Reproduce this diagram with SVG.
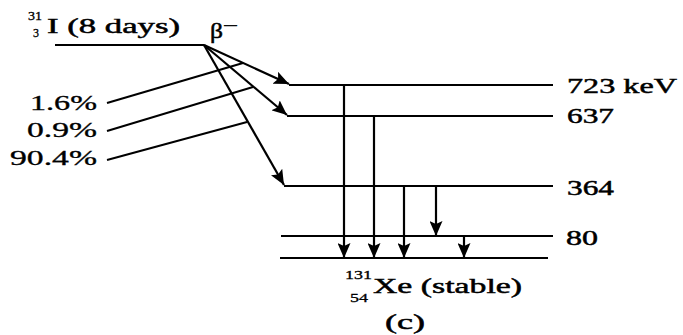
<svg xmlns="http://www.w3.org/2000/svg" width="683" height="335" viewBox="0 0 683 335">
<style>
text { font-family: "Liberation Serif", "Times New Roman", serif; fill: #000; stroke: #000; stroke-width: 0.5; font-weight: normal; }
.lbl { font-size: 22px; }
.pct { font-size: 20px; stroke-width: 0.3; }
.sm { font-size: 12px; stroke-width: 0.3; }
.lvl { stroke: #000; stroke-width: 2.2; fill: none; }
.arr { stroke: #000; stroke-width: 2.2; fill: none; marker-end: url(#ah); }
.lead { stroke: #000; stroke-width: 2; fill: none; }
</style>
<defs>
<marker id="ah" markerUnits="userSpaceOnUse" markerWidth="15" markerHeight="13" refX="15" refY="6.5" orient="auto">
<path d="M0,0 L15,6.5 L0,13 L3,6.5 z" fill="#000"/>
</marker>
</defs>
<rect width="683" height="335" fill="#fff"/>

<g id="parent">
<line class="lvl" x1="55" y1="45" x2="204" y2="45"/>
<text class="sm" x="28" y="20" textLength="14" lengthAdjust="spacingAndGlyphs">31</text>
<text class="sm" x="33" y="37">3</text>
<text class="lbl" x="47" y="33" textLength="133" lengthAdjust="spacingAndGlyphs">I (8 days)</text>
<text class="lbl" x="210" y="38" textLength="13" lengthAdjust="spacingAndGlyphs">β</text>
<text class="lbl" x="223" y="31" textLength="15" lengthAdjust="spacingAndGlyphs" style="font-size:16px">−</text>
</g>

<g id="level-723">
<line class="lvl" x1="289" y1="85" x2="553" y2="85"/>
<text class="lbl" x="567" y="93" textLength="110" lengthAdjust="spacingAndGlyphs">723 keV</text>
</g>
<g id="level-637">
<line class="lvl" x1="287" y1="116" x2="553" y2="116"/>
<text class="lbl" x="567" y="123" textLength="47" lengthAdjust="spacingAndGlyphs">637</text>
</g>
<g id="level-364">
<line class="lvl" x1="284" y1="186" x2="553" y2="186"/>
<text class="lbl" x="567" y="195" textLength="47" lengthAdjust="spacingAndGlyphs">364</text>
</g>
<g id="level-80">
<line class="lvl" x1="281" y1="236" x2="553" y2="236"/>
<text class="lbl" x="566" y="245" textLength="32" lengthAdjust="spacingAndGlyphs">80</text>
</g>
<g id="ground">
<line class="lvl" x1="280" y1="258" x2="548" y2="258"/>
<text class="sm" x="345" y="279" textLength="27" lengthAdjust="spacingAndGlyphs">131</text>
<text class="sm" x="350" y="302" textLength="18" lengthAdjust="spacingAndGlyphs">54</text>
<text class="lbl" x="373" y="293" textLength="149" lengthAdjust="spacingAndGlyphs">Xe (stable)</text>
</g>

<g id="pct-1-6">
<text class="pct" x="30" y="110" textLength="67" lengthAdjust="spacingAndGlyphs">1.6%</text>
</g>
<g id="pct-0-9">
<text class="pct" x="27" y="137" textLength="70" lengthAdjust="spacingAndGlyphs">0.9%</text>
</g>
<g id="pct-90-4">
<text class="pct" x="10" y="165" textLength="87" lengthAdjust="spacingAndGlyphs">90.4%</text>
</g>

<g id="caption">
<text class="lbl" x="385" y="329" textLength="40" lengthAdjust="spacingAndGlyphs">(c)</text>
</g>

<g id="connectors">
<line class="arr" x1="204" y1="45" x2="289" y2="84"/>
<line class="arr" x1="204" y1="45" x2="287" y2="115"/>
<line class="arr" x1="204" y1="45" x2="284" y2="185"/>
<line class="lead" x1="107" y1="103" x2="243" y2="63"/>
<line class="lead" x1="107" y1="131" x2="253" y2="87"/>
<line class="lead" x1="107" y1="160" x2="247" y2="122"/>
<line class="arr" x1="344" y1="85" x2="344" y2="258"/>
<line class="arr" x1="374" y1="116" x2="374" y2="258"/>
<line class="arr" x1="404" y1="186" x2="404" y2="258"/>
<line class="arr" x1="436" y1="186" x2="436" y2="236"/>
<line class="arr" x1="464" y1="236" x2="464" y2="258"/>
</g>
</svg>
